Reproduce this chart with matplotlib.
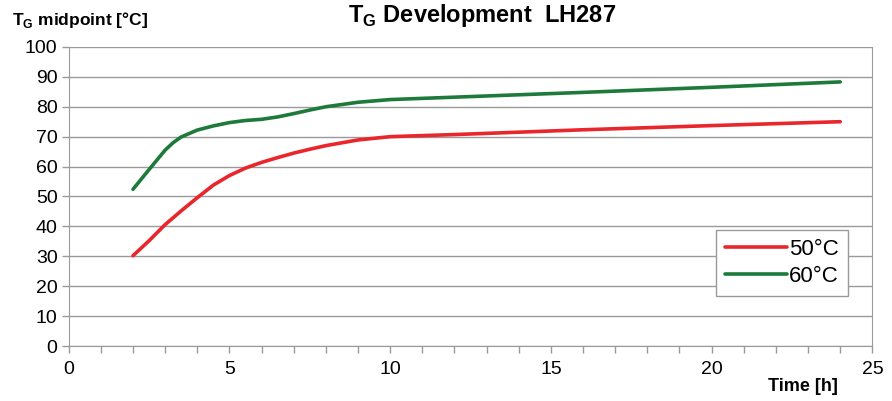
import numpy as np
import matplotlib
matplotlib.use('Agg')
import matplotlib.pyplot as plt
from matplotlib.ticker import MultipleLocator

plt.rcParams['font.family'] = ['Liberation Sans', 'DejaVu Sans']
plt.rcParams['mathtext.fontset'] = 'custom'
plt.rcParams['mathtext.rm'] = 'Liberation Sans'
plt.rcParams['mathtext.bf'] = 'Liberation Sans:bold'

# data
hours = [2, 2.5, 3, 3.25, 3.5, 4, 4.5, 5, 5.5, 6, 6.5, 7, 7.5, 8, 9, 10, 12, 16, 20, 24]
tg_50 = [30.2, 35.2, 40.6, 42.9, 45.2, 49.6, 53.8, 57.0, 59.5, 61.4, 63.0, 64.5, 65.8,
         67.0, 68.9, 70.0, 70.7, 72.3, 73.7, 75.0]
tg_60 = [52.4, 59.0, 65.5, 68.0, 69.9, 72.2, 73.6, 74.7, 75.4, 75.8, 76.6, 77.7, 78.9,
         80.0, 81.5, 82.4, 83.2, 84.8, 86.5, 88.3]
series_names = ['50°C', '60°C']

grey = '#9a9a9a'

fig = plt.figure(figsize=(8.92, 4.01), dpi=100)
ax = fig.add_axes([0.077, 0.137, 0.901, 0.746])

ax.plot(hours, tg_50, color='#e8262b', lw=2.6, label=series_names[0],
        solid_capstyle='round', solid_joinstyle='round')
ax.plot(hours, tg_60, color='#1e7a3a', lw=2.6, label=series_names[1],
        solid_capstyle='round', solid_joinstyle='round')

ax.set_xlim(0, 25)
ax.set_ylim(0, 100)
ax.xaxis.set_major_locator(MultipleLocator(5))
ax.xaxis.set_minor_locator(MultipleLocator(1))
ax.yaxis.set_major_locator(MultipleLocator(10))
ax.yaxis.grid(True, color=grey, lw=1.0)
ax.set_axisbelow(True)
ax.tick_params(axis='both', labelsize=14, color=grey, length=5, width=1, pad=3)
ax.tick_params(axis='x', which='minor', color=grey, length=5, width=1)
ax.tick_params(axis='x', pad=6)
for side in ['left', 'bottom', 'right']:
    ax.spines[side].set_color(grey)
ax.spines['top'].set_visible(False)

leg = ax.legend(loc='lower right', bbox_to_anchor=(0.983, 0.13), fontsize=16,
                handlelength=2.8, handletextpad=0.1, borderpad=0.4, labelspacing=0.3,
                fancybox=False, framealpha=1)
leg.get_frame().set_edgecolor(grey)
leg.get_frame().set_linewidth(1)

fig.text(0.013, 0.937, r'T$_\mathbf{G}$ midpoint [°C]', fontsize=12.5, fontweight='bold',
         ha='left', va='baseline')
fig.text(0.54, 0.945, r'T$_\mathbf{G}$ Development  LH287', fontsize=17, fontweight='bold',
         ha='center', va='baseline')
fig.text(0.9, 0.024, 'Time [h]', fontsize=13, fontweight='bold', ha='center', va='baseline')

fig.savefig('out.png', dpi=100)
